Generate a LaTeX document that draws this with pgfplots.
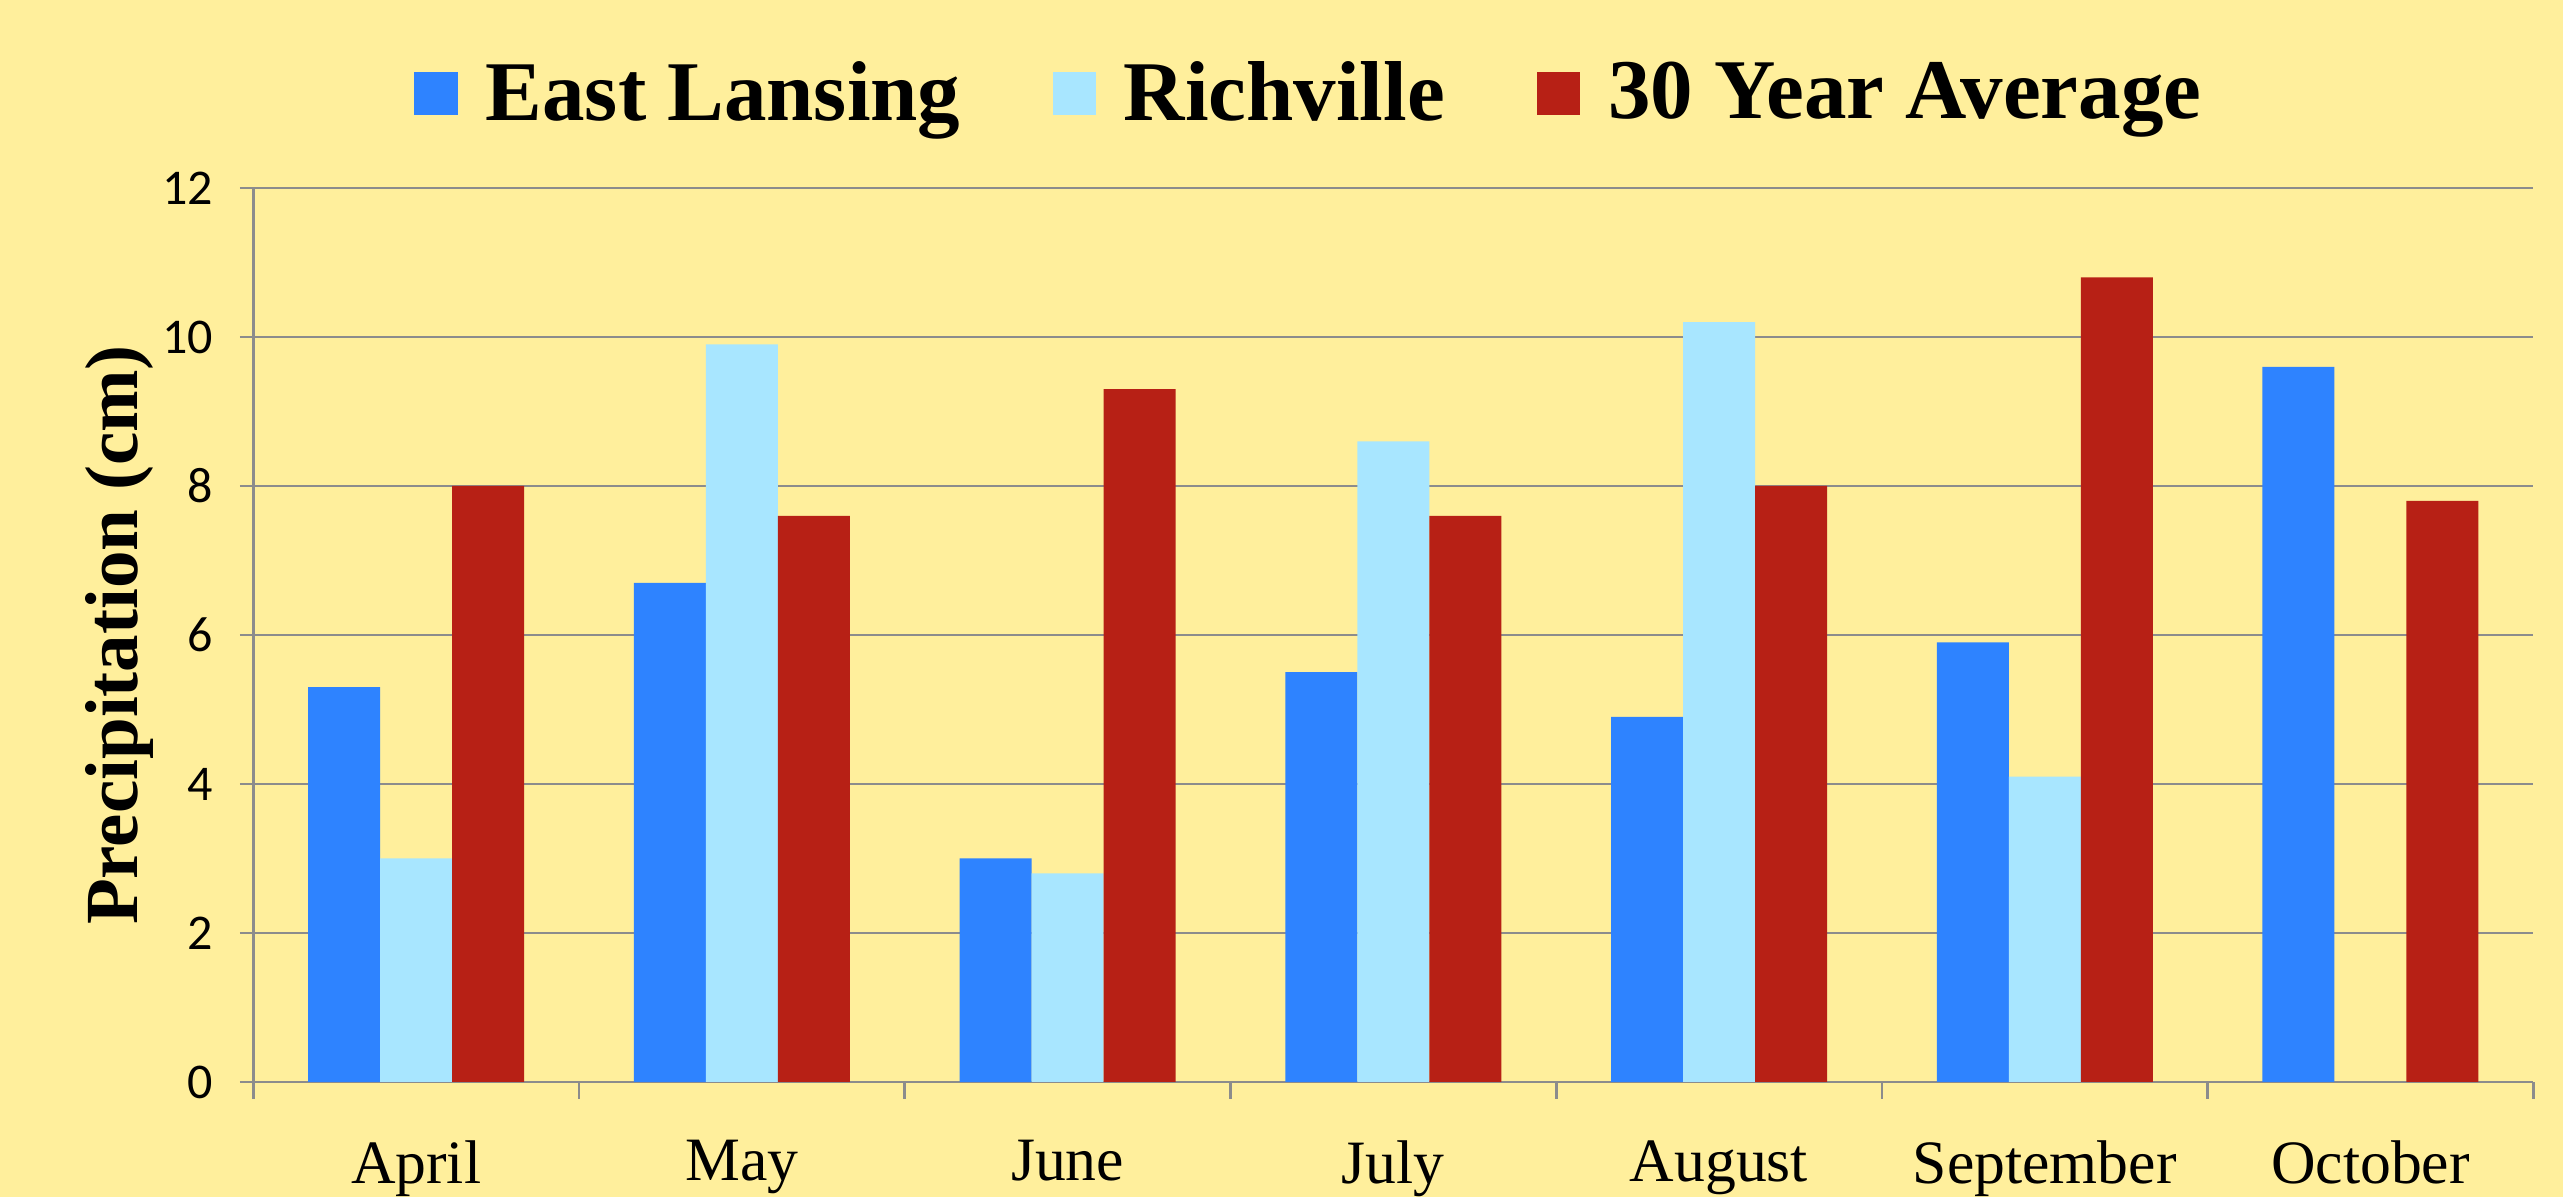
\documentclass[border=0pt]{standalone}
\usepackage{pgfplots}
\pgfplotsset{compat=1.18}
\usepackage{fontspec}
\setmainfont{Liberation Serif}
\newfontfamily\tickfont{Carlito}
\definecolor{bg}{RGB}{255,239,156}
\definecolor{elblue}{RGB}{46,131,255}
\definecolor{rich}{RGB}{168,230,255}
\definecolor{avgred}{RGB}{183,32,21}
\definecolor{gridgray}{RGB}{140,140,140}
\pgfplotsset{sqlegend/.style={legend image code/.code={\fill[##1] (0pt,-6.5pt) rectangle (13pt,6.5pt); \path (19.4pt,0pt);}}}
\begin{document}
\begin{tikzpicture}
\fill[bg] (-76pt,-34.4pt) rectangle (692.9pt,324.6pt);
\useasboundingbox (-76pt,-34.4pt) rectangle (692.9pt,324.6pt);
\begin{axis}[
  at={(0,0)}, anchor=south west,
  scale only axis, width=684pt, height=268.2pt,
  ybar=0pt, bar width=21.6pt,
  xmin=0.5, xmax=7.5, ymin=0, ymax=12,
  xtick={1,...,7},
  xticklabels={April,May,June,July,August,September,October},
  minor xtick={0.5,1.5,...,7.5},
  ytick={0,2,...,12},
  xtick pos=bottom, ytick pos=left,
  tick align=outside,
  major x tick style={draw=none},
  minor x tick style={draw=gridgray, line width=0.8pt},
  major y tick style={draw=gridgray, line width=0.8pt},
  major tick length=4pt, minor tick length=5pt,
  axis lines*=left,
  axis line style={gridgray, line width=0.8pt},
  ymajorgrids, major grid style={gridgray, line width=0.6pt},
  /pgf/number format/assume math mode=true,
  yticklabel style={font=\tickfont\fontsize{15}{15}\selectfont, xshift=-4.5pt},
  xticklabel style={font=\fontsize{18.5}{20}\selectfont, text depth=0pt, yshift=-10pt},
  ylabel={Precipitation (cm)},
  ylabel style={at={(axis description cs:-0.0585,0.5)}, anchor=center, font=\fontsize{22.5}{24}\selectfont\bfseries},
  legend style={at={(rel axis cs:0.464,1.106)}, anchor=center, draw=none, fill=none,
    legend columns=3, font=\fontsize{25.5}{27}\selectfont\bfseries,
    /tikz/every even column/.append style={column sep=25.6pt}, inner sep=0pt},
]
\addplot[fill=elblue, draw=none, sqlegend] coordinates {(1,5.3) (2,6.7) (3,3.0) (4,5.5) (5,4.9) (6,5.9) (7,9.6)};
\addplot[fill=rich, draw=none, sqlegend] coordinates {(1,3.0) (2,9.9) (3,2.8) (4,8.6) (5,10.2) (6,4.1)};
\addplot[fill=avgred, draw=none, sqlegend] coordinates {(1,8.0) (2,7.6) (3,9.3) (4,7.6) (5,8.0) (6,10.8) (7,7.8)};
\legend{East Lansing,Richville,30 Year Average}
\end{axis}
\end{tikzpicture}
\end{document}
